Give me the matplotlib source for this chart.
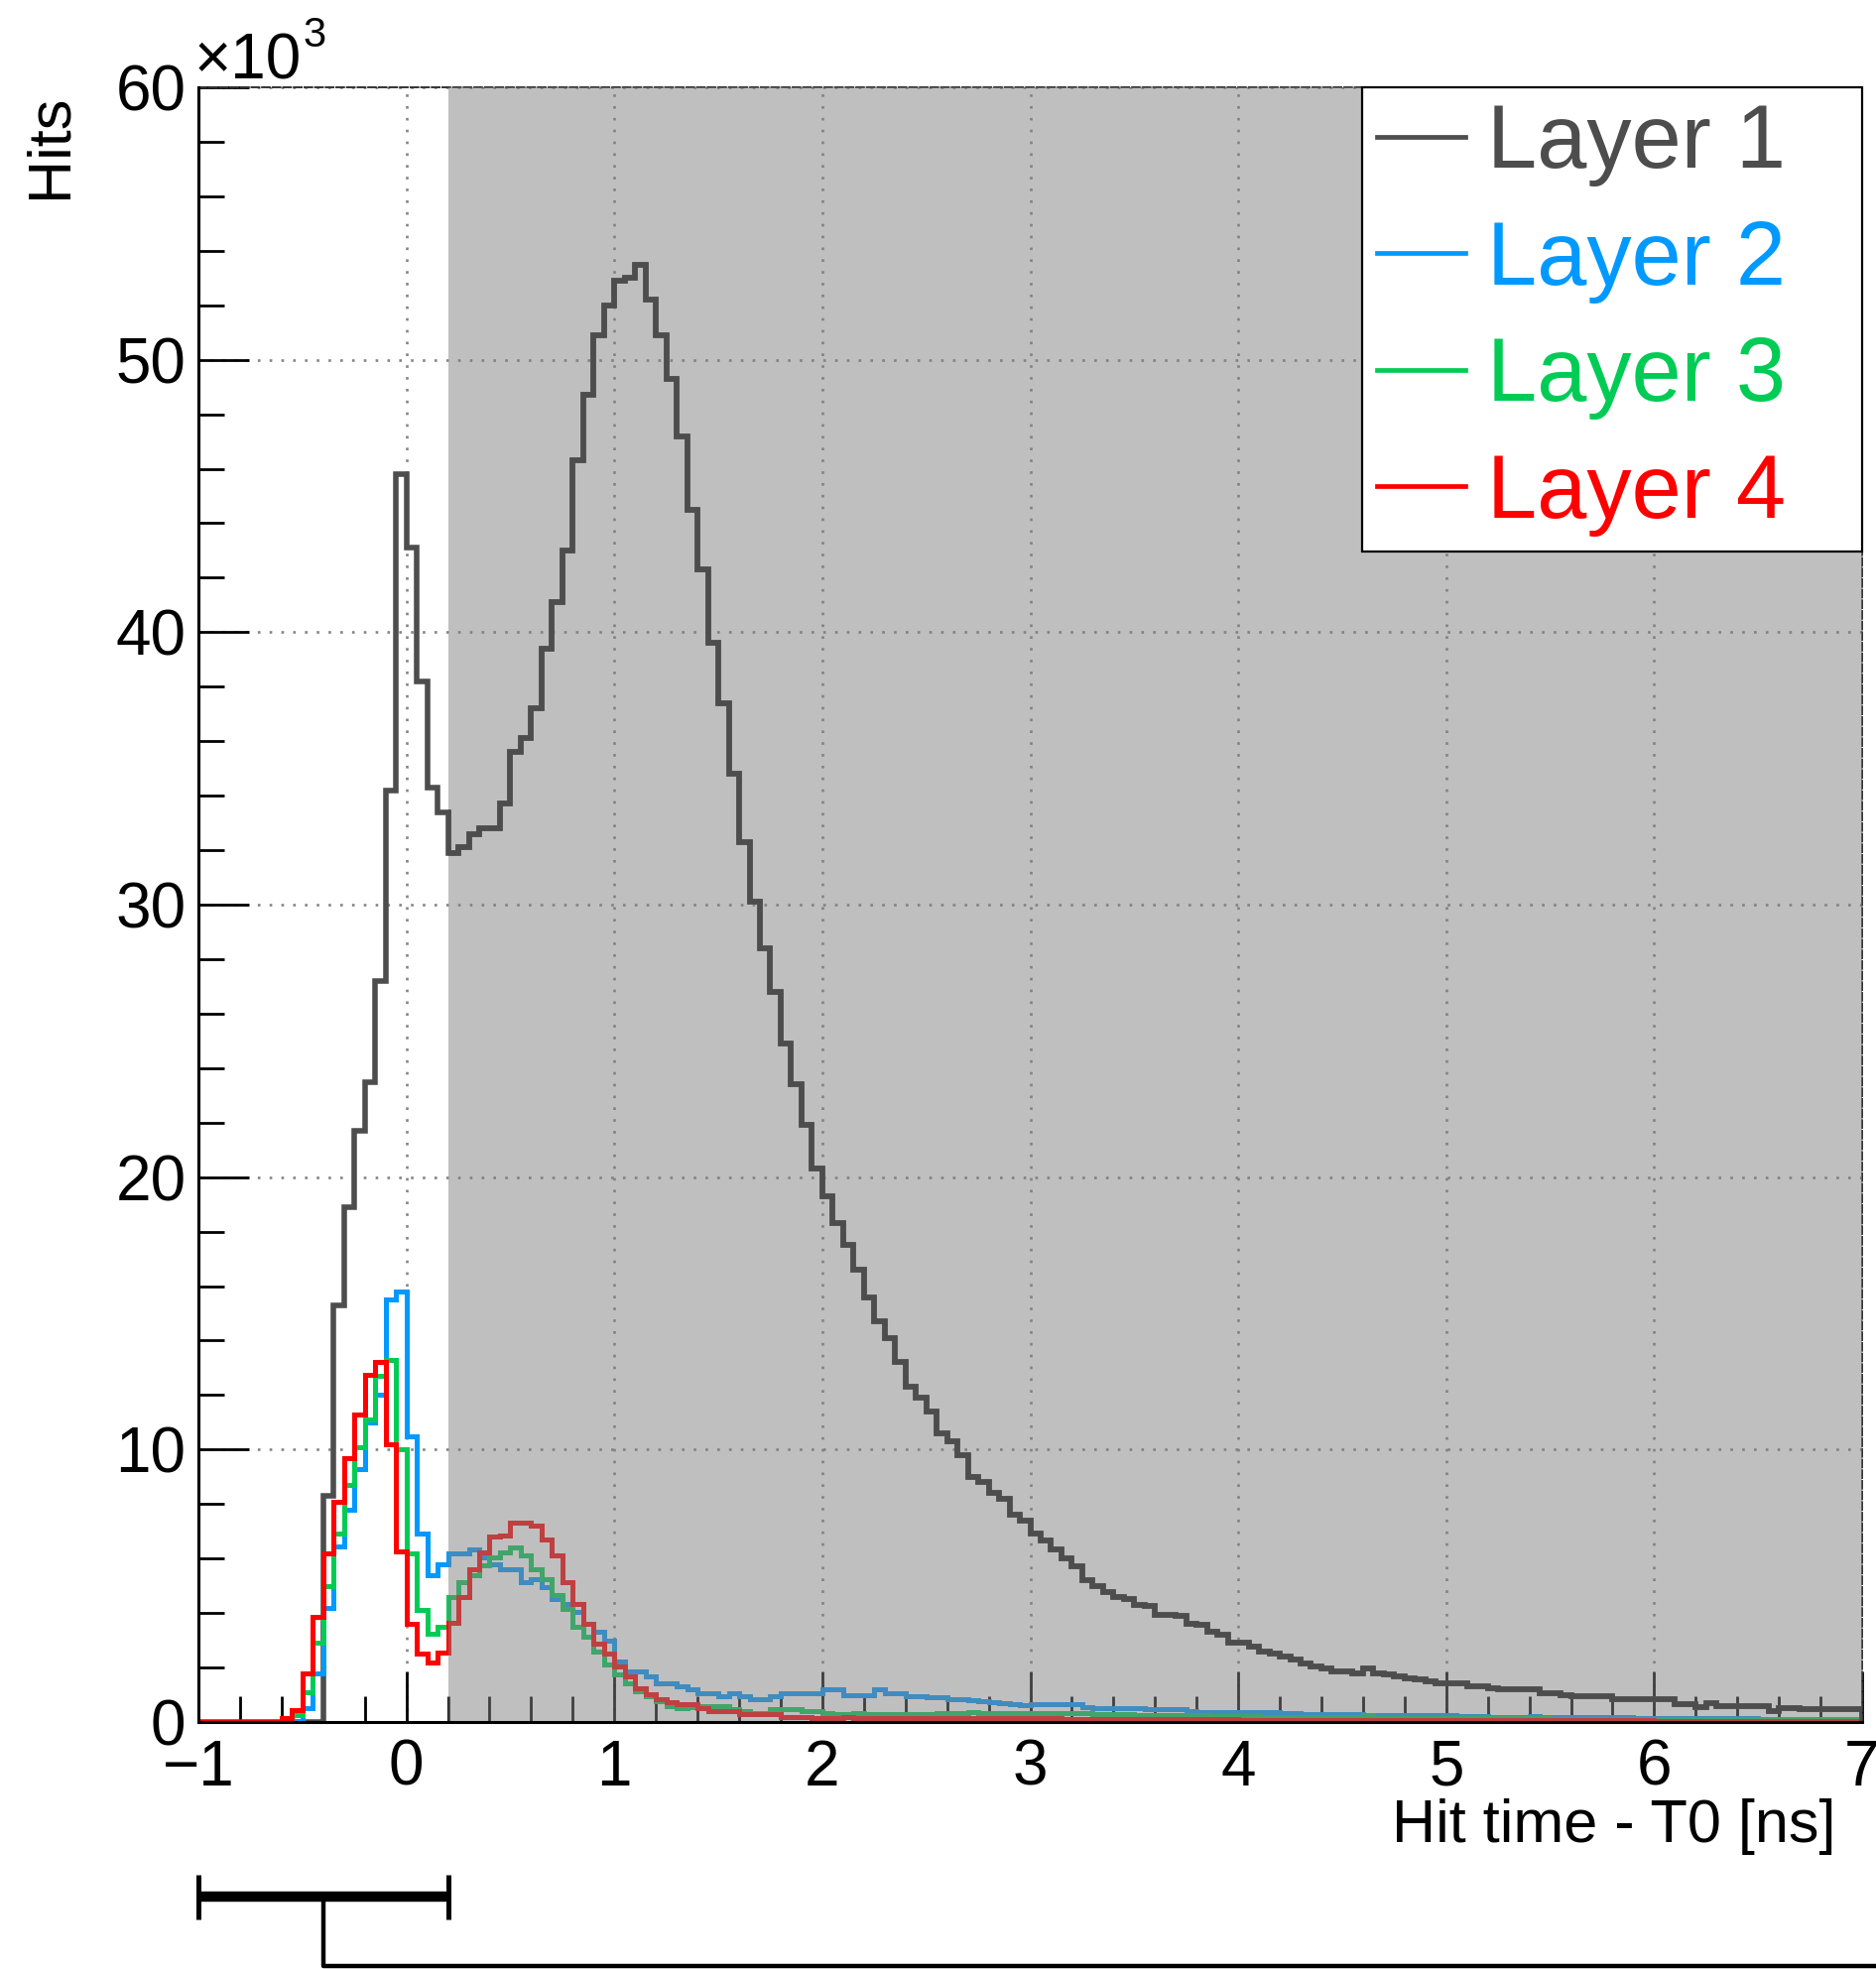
import numpy as np
import matplotlib
matplotlib.use("Agg")
import matplotlib.pyplot as plt
from matplotlib.lines import Line2D
from matplotlib.ticker import MultipleLocator
from matplotlib.transforms import blended_transform_factory

plt.rcParams['font.family'] = ['Liberation Sans', 'DejaVu Sans']

# binning of the hit time histograms [ns]
bin_lo = -1.0
bin_width = 0.05

# hits per bin in units of 10^3, one row per ns
layer1 = [
    0, 0, 0, 0, 0, 0, 0, 0, 0, 0, 0, 0, 8.3, 15.3, 18.9, 21.7, 23.5, 27.2, 34.2, 45.8,
    43.1, 38.2, 34.3, 33.4, 31.9, 32.1, 32.6, 32.8, 32.8, 33.7, 35.6, 36.1, 37.2, 39.4, 41.1, 43.0, 46.3, 48.7, 50.9, 52.0,
    52.9, 53.0, 53.5, 52.2, 50.9, 49.3, 47.2, 44.5, 42.3, 39.6, 37.4, 34.8, 32.3, 30.1, 28.4, 26.8, 24.9, 23.4, 21.9, 20.3,
    19.3, 18.3, 17.5, 16.6, 15.6, 14.7, 14.1, 13.2, 12.3, 11.9, 11.4, 10.6, 10.3, 9.8, 9.0, 8.8, 8.4, 8.2, 7.6, 7.4,
    6.9, 6.65, 6.35, 6.0, 5.7, 5.2, 5.0, 4.77, 4.6, 4.5, 4.3, 4.25, 3.92, 3.92, 3.9, 3.62, 3.55, 3.31, 3.2, 2.91,
    2.9, 2.75, 2.6, 2.52, 2.4, 2.28, 2.16, 2.05, 1.98, 1.86, 1.86, 1.80, 1.95, 1.80, 1.75, 1.67, 1.62, 1.55, 1.50, 1.43,
    1.43, 1.43, 1.31, 1.31, 1.25, 1.19, 1.19, 1.19, 1.19, 1.07, 1.07, 1.00, 0.95, 0.95, 0.95, 0.95, 0.83, 0.83, 0.83, 0.83,
    0.83, 0.83, 0.64, 0.64, 0.55, 0.68, 0.58, 0.58, 0.58, 0.58, 0.58, 0.40, 0.52, 0.52, 0.46, 0.46, 0.46, 0.46, 0.46, 0.46,
]
layer2 = [
    0, 0, 0, 0, 0, 0, 0, 0, 0, 0.05, 0.5, 1.8, 4.2, 6.45, 7.8, 9.3, 11.0, 12.0, 15.5, 15.8,
    10.5, 6.9, 5.4, 5.8, 6.2, 6.2, 6.35, 6.04, 5.8, 5.62, 5.62, 5.13, 5.25, 4.95, 4.53, 4.34, 4.04, 3.62, 3.3, 3.0,
    2.22, 1.86, 1.86, 1.67, 1.43, 1.43, 1.31, 1.19, 1.07, 1.07, 0.95, 1.07, 0.95, 0.83, 0.83, 0.95, 1.07, 1.07, 1.07, 1.07,
    1.19, 1.19, 1.0, 1.0, 1.0, 1.19, 1.07, 1.07, 0.95, 0.95, 0.9, 0.9, 0.85, 0.83, 0.8, 0.75, 0.72, 0.7, 0.66, 0.62,
    0.64, 0.64, 0.64, 0.64, 0.64, 0.55, 0.52, 0.52, 0.52, 0.52, 0.52, 0.48, 0.46, 0.46, 0.46, 0.40, 0.37, 0.37, 0.37, 0.37,
    0.37, 0.37, 0.37, 0.37, 0.34, 0.34, 0.30, 0.28, 0.28, 0.30, 0.28, 0.28, 0.26, 0.26, 0.26, 0.26, 0.24, 0.24, 0.24, 0.24,
    0.24, 0.22, 0.22, 0.22, 0.20, 0.20, 0.20, 0.20, 0.22, 0.20, 0.18, 0.18, 0.18, 0.18, 0.18, 0.17, 0.17, 0.17, 0.16, 0.16,
    0.15, 0.15, 0.15, 0.14, 0.14, 0.14, 0.13, 0.13, 0.13, 0.13, 0.12, 0.12, 0.12, 0.12, 0.11, 0.11, 0.11, 0.11, 0.10, 0.10,
]
layer3 = [
    0, 0, 0, 0, 0, 0, 0, 0, 0, 0.25, 1.1, 2.9, 5.0, 6.9, 8.7, 10.1, 11.1, 12.7, 13.3, 10.0,
    6.2, 4.1, 3.25, 3.5, 4.6, 5.15, 5.38, 5.74, 6.04, 6.22, 6.41, 6.1, 5.62, 5.25, 4.65, 4.16, 3.5, 3.13, 2.58, 2.1,
    1.74, 1.43, 1.13, 0.95, 0.76, 0.6, 0.52, 0.55, 0.58, 0.58, 0.58, 0.46, 0.40, 0.34, 0.34, 0.46, 0.46, 0.46, 0.40, 0.40,
    0.32, 0.30, 0.30, 0.32, 0.30, 0.30, 0.28, 0.30, 0.30, 0.28, 0.30, 0.32, 0.34, 0.34, 0.36, 0.34, 0.34, 0.34, 0.34, 0.34,
    0.34, 0.34, 0.34, 0.34, 0.34, 0.32, 0.30, 0.30, 0.28, 0.28, 0.26, 0.26, 0.24, 0.24, 0.24, 0.24, 0.24, 0.22, 0.22, 0.22,
    0.22, 0.22, 0.20, 0.20, 0.20, 0.20, 0.20, 0.18, 0.18, 0.18, 0.18, 0.18, 0.26, 0.16, 0.16, 0.16, 0.15, 0.15, 0.15, 0.15,
    0.14, 0.14, 0.14, 0.14, 0.14, 0.14, 0.14, 0.14, 0.14, 0.14, 0.12, 0.12, 0.12, 0.12, 0.12, 0.12, 0.12, 0.12, 0.12, 0.12,
    0.11, 0.11, 0.11, 0.11, 0.11, 0.11, 0.11, 0.11, 0.11, 0.11, 0.10, 0.10, 0.10, 0.10, 0.10, 0.10, 0.10, 0.10, 0.10, 0.10,
]
layer4 = [
    0, 0, 0, 0, 0, 0, 0, 0, 0.15, 0.45, 1.8, 3.85, 6.2, 8.1, 9.7, 11.3, 12.75, 13.2, 10.2, 6.25,
    3.6, 2.5, 2.2, 2.55, 3.65, 4.59, 5.62, 6.22, 6.8, 6.85, 7.32, 7.32, 7.2, 6.71, 6.1, 5.13, 4.34, 3.6, 2.89, 2.52,
    2.04, 1.68, 1.25, 1.01, 0.83, 0.71, 0.64, 0.64, 0.52, 0.40, 0.40, 0.40, 0.28, 0.28, 0.28, 0.28, 0.20, 0.18, 0.18, 0.16,
    0.16, 0.16, 0.20, 0.14, 0.16, 0.14, 0.16, 0.14, 0.16, 0.14, 0.14, 0.14, 0.14, 0.14, 0.14, 0.14, 0.14, 0.14, 0.14, 0.14,
    0.14, 0.14, 0.14, 0.12, 0.12, 0.12, 0.10, 0.10, 0.10, 0.10, 0.10, 0.10, 0.10, 0.10, 0.10, 0.10, 0.10, 0.10, 0.10, 0.10,
    0.08, 0.08, 0.08, 0.08, 0.08, 0.08, 0.08, 0.08, 0.08, 0.08, 0.08, 0.08, 0.08, 0.08, 0.08, 0.08, 0.08, 0.08, 0.08, 0.08,
    0.06, 0.06, 0.06, 0.06, 0.06, 0.06, 0.06, 0.06, 0.06, 0.06, 0.06, 0.06, 0.06, 0.06, 0.06, 0.06, 0.06, 0.06, 0.06, 0.06,
    0.05, 0.05, 0.05, 0.05, 0.05, 0.05, 0.05, 0.05, 0.05, 0.05, 0.05, 0.05, 0.05, 0.05, 0.05, 0.05, 0.05, 0.05, 0.05, 0.05,
]

labels = ['Layer 1', 'Layer 2', 'Layer 3', 'Layer 4']
colors = ['#4d4d4d', '#0099ff', '#00cc55', '#ff0000']

# shaded part of the time axis and the window bracket drawn under the plot [ns]
shade_from = 0.2
window = (-1.0, 0.2)
window_mark = -0.4

xmin, xmax = -1, 7
ymax = 60

edges = bin_lo + bin_width * np.arange(len(layer1) + 1)

W, H = 1891, 1985
fig = plt.figure(figsize=(W / 100, H / 100), dpi=100)
ax = fig.add_axes([200 / W, 1 - 1736 / H, 1677 / W, 1648 / H])

# layer 1 below the coloured layers, the shading above them
ax.stairs(layer1, edges, color=colors[0], lw=4.0, zorder=2)
for vals, c in zip([layer2, layer3, layer4], colors[1:]):
    ax.stairs(vals, edges, color=c, lw=3.6, zorder=3)
span = ax.axvspan(shade_from, xmax, color='#808080', alpha=0.5, lw=0, zorder=4)
# layer 1 stays on top inside the shaded region
top = ax.stairs(layer1, edges, color=colors[0], lw=4.0, zorder=5)
top.set_clip_path(span)

ax.set_xlim(xmin, xmax)
ax.set_ylim(0, ymax)
ax.xaxis.set_major_locator(MultipleLocator(1))
ax.xaxis.set_minor_locator(MultipleLocator(0.2))
ax.yaxis.set_major_locator(MultipleLocator(10))
ax.yaxis.set_minor_locator(MultipleLocator(2))
ax.tick_params(which='both', direction='in', top=False, right=False,
               width=2.0, labelsize=46, zorder=6)
ax.tick_params(which='major', length=37)
ax.tick_params(which='minor', length=19)
ax.tick_params(axis='y', pad=9)
ax.tick_params(axis='x', pad=12)

ax.set_axisbelow(True)
ax.grid(True, which='major', linestyle=(0, (1, 3.5)), color='#858585', lw=1.9)

for s in ['left', 'bottom']:
    ax.spines[s].set_linewidth(2.2)
    ax.spines[s].set_zorder(6)
for s in ['top', 'right']:
    ax.spines[s].set_linestyle((0, (4, 1.5)))
    ax.spines[s].set_linewidth(1.4)
    ax.spines[s].set_color('#333333')

ax.set_xlabel('Hit time - T0 [ns]', fontsize=44, ha='right')
ax.xaxis.set_label_coords(0.984, -0.047)
ax.set_ylabel('Hits', fontsize=44, loc='top')
ax.yaxis.set_label_coords(-0.0716, 0.9957)

fig.text(196 / W, 1 - 80 / H, '\u00d710', fontsize=46, va='baseline', ha='left')
fig.text(305 / W, 1 - 47 / H, '3', fontsize=30, va='baseline', ha='left')

handles = [Line2D([], [], color=c, lw=3.4) for c in colors]
leg = ax.legend(handles, labels, loc='upper left',
                bbox_to_anchor=(0.6995, 0.7184, 0.3005, 0.2816), mode='expand',
                borderaxespad=0, fontsize=65, labelcolor='linecolor',
                handlelength=0.98, handletextpad=0.24, borderpad=0.17,
                labelspacing=0.36, fancybox=False, framealpha=1,
                edgecolor='black', facecolor='white')
leg.get_frame().set_linewidth(1.6)
leg.set_zorder(10)

# window bracket below the axis
tr = blended_transform_factory(ax.transData, ax.transAxes)
ax.plot(window, [-0.1068, -0.1068], color='black', lw=7.5, transform=tr, clip_on=False, solid_capstyle='butt')
for xw in window:
    ax.plot([xw, xw], [-0.0934, -0.1208], color='black', lw=3.6, transform=tr, clip_on=False, solid_capstyle='butt')
ax.plot([window_mark, window_mark, 7.3], [-0.1068, -0.1493, -0.1493], color='black', lw=3.2,
        transform=tr, clip_on=False, solid_capstyle='butt')

fig.savefig('out.png', dpi=100)
